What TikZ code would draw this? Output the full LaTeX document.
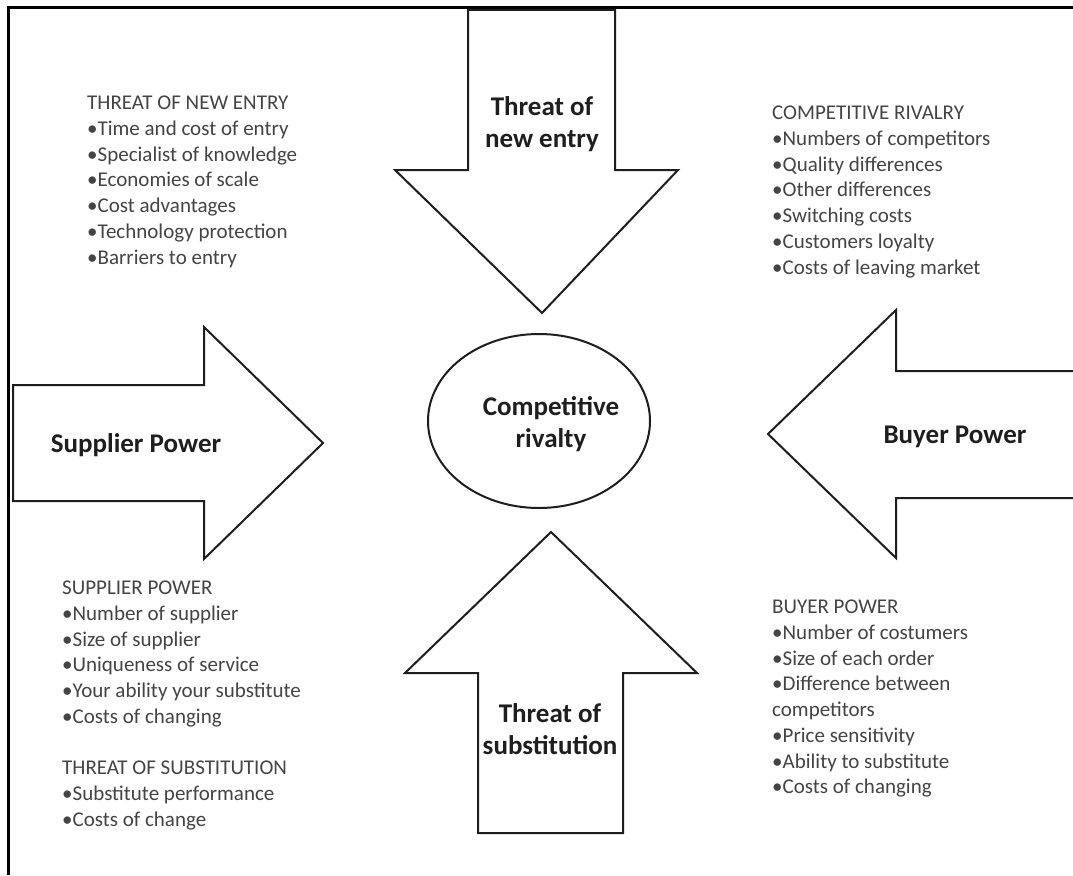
\documentclass[tikz,border=0pt]{standalone}
\usepackage{fontspec}
\setmainfont{Carlito}
\definecolor{listgrey}{HTML}{444444}
\definecolor{inkdark}{HTML}{1E1E1E}
\begin{document}
\begin{tikzpicture}[x=1pt,y=-1pt,
  outline/.style={draw=inkdark,line width=2pt,line join=miter,fill=white},
  frameline/.style={draw=black,line width=3pt},
  biglabel/.style={font=\fontsize{27}{32}\selectfont\bfseries,text=inkdark,align=center,inner sep=0pt},
  listtext/.style={font=\fontsize{21}{25.7}\selectfont,text=listgrey,align=left,anchor=north west,inner sep=0pt}]
\useasboundingbox (0,0) rectangle (1073,875);
\fill[white] (0,0) rectangle (1073,875);

% frame on the top and left sides
\draw[frameline] (8,875) -- (8,8) -- (1073,8);

% central ellipse
\draw[outline] (539,421) ellipse [x radius=111,y radius=87];
\node[biglabel] (core) at (551,424) {Competitive\\rivalty};

% downward arrow: threat of new entry
\draw[outline] (468,10) -- (615,10) -- (615,170) -- (678,170) -- (542,313)
  -- (395,170) -- (468,170) -- cycle;
\node[biglabel] (entry) at (542,124) {Threat of\\new entry};

% upward arrow: threat of substitution
\draw[outline] (478,833) -- (623,833) -- (623,673) -- (697,673) -- (551,532)
  -- (405,673) -- (478,673) -- cycle;
\node[biglabel] (subst) at (550,729) {Threat of\\substitution};

% rightward arrow: supplier power
\draw[outline] (13,385) -- (204,385) -- (204,327) -- (323,443) -- (204,559)
  -- (204,501) -- (13,501) -- cycle;
\node[biglabel] (supplier) at (136,445) {Supplier Power};

% leftward arrow: buyer power (shaft runs off the right edge)
\fill[white] (1075,371) -- (896,371) -- (896,310) -- (768,434) -- (896,558)
  -- (896,498) -- (1075,498) -- cycle;
\draw[outline,fill=none] (1075,371) -- (896,371) -- (896,310) -- (768,434)
  -- (896,558) -- (896,498) -- (1075,498);
\node[biglabel] (buyer) at (955,437) {Buyer Power};

% factor lists
\node[listtext] (entrylist) at (87,96) {THREAT OF NEW ENTRY\\
  •Time and cost of entry\\
  •Specialist of knowledge\\
  •Economies of scale\\
  •Cost advantages\\
  •Technology protection\\
  •Barriers to entry};

\node[listtext] (rivallist) at (772,106) {COMPETITIVE RIVALRY\\
  •Numbers of competitors\\
  •Quality differences\\
  •Other differences\\
  •Switching costs\\
  •Customers loyalty\\
  •Costs of leaving market};

\node[listtext] (supplierlist) at (62,581) {SUPPLIER POWER\\
  •Number of supplier\\
  •Size of supplier\\
  •Uniqueness of service\\
  •Your ability your substitute\\
  •Costs of changing};

\node[listtext] (substlist) at (62,761) {THREAT OF SUBSTITUTION\\
  •Substitute performance\\
  •Costs of change};

\node[listtext] (buyerlist) at (772,600) {BUYER POWER\\
  •Number of costumers\\
  •Size of each order\\
  •Difference between\\
  competitors\\
  •Price sensitivity\\
  •Ability to substitute\\
  •Costs of changing};
\end{tikzpicture}
\end{document}
